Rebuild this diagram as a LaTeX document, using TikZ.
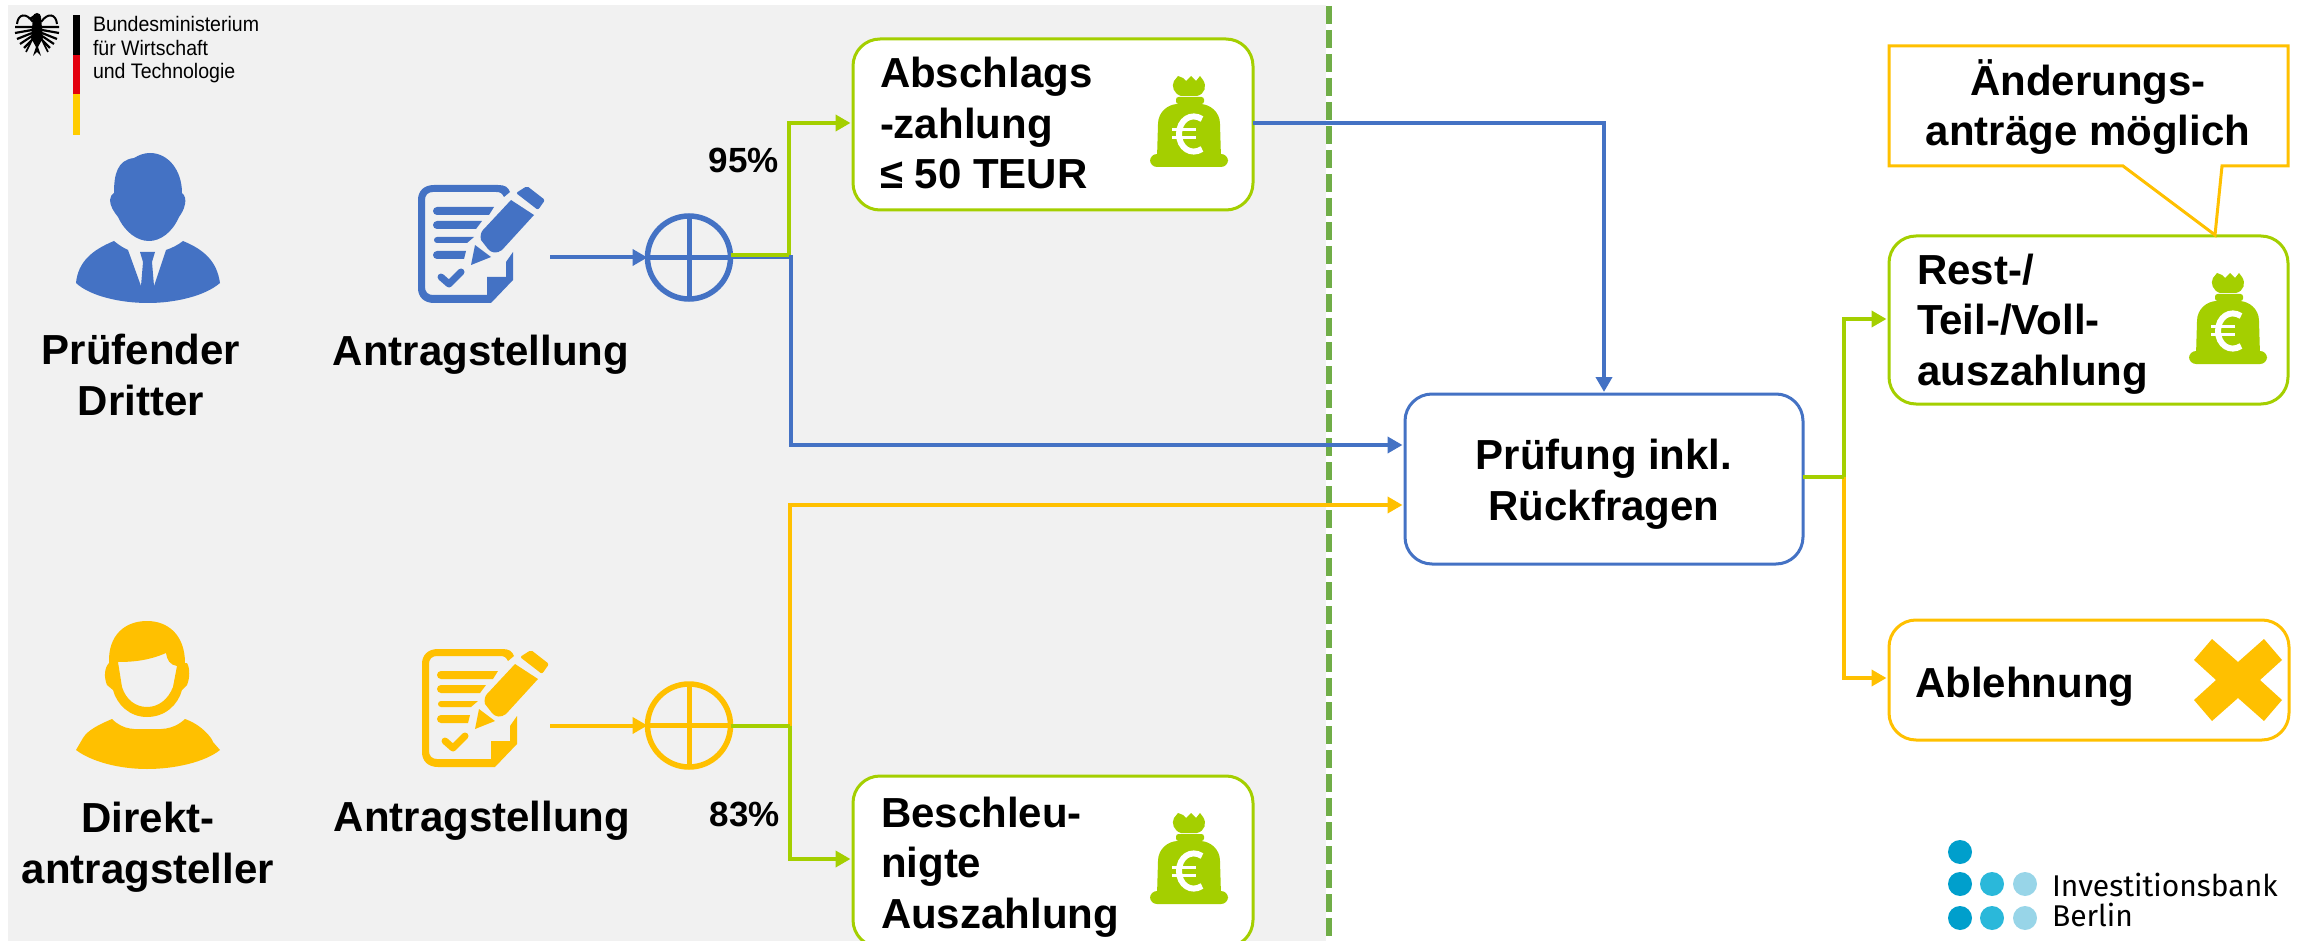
\documentclass[tikz,border=0pt]{standalone}
\usepackage{fontspec}
\setmainfont{Liberation Sans}
\newfontfamily\bmwfont[FakeStretch=0.93]{Liberation Sans}
\newfontfamily\ibbfont{Fira Sans}
\usetikzlibrary{arrows.meta}
\definecolor{cblue}{HTML}{4472C4}
\definecolor{cyell}{HTML}{FFC000}
\definecolor{cgreen}{HTML}{A4CF00}
\definecolor{cdash}{HTML}{70AD47}
\definecolor{cgray}{HTML}{F1F1F1}
\definecolor{ibbA}{HTML}{009FCC}
\definecolor{ibbB}{HTML}{2AB8DA}
\definecolor{ibbC}{HTML}{98D5E8}
\definecolor{bmwred}{HTML}{E3000F}
\definecolor{bmwgold}{HTML}{FFCC00}
\tikzset{
  lbl/.style={font=\fontsize{42}{50.5}\selectfont\bfseries,inner sep=0pt,outer sep=0pt,align=left,text=black},
  clbl/.style={lbl,align=center},
  pct/.style={font=\fontsize{35}{42}\selectfont\bfseries,inner sep=0pt,outer sep=0pt},
  boxnode/.style={draw=#1,fill=white,line width=3pt,rounded corners=27pt,inner sep=0pt,outer sep=0pt},
  sumnode/.style={circle,draw=#1,line width=5.5pt,minimum size=83pt,inner sep=0pt,outer sep=0pt},
  conn/.style={draw=#1,line width=4pt,-{Triangle[length=15pt,width=16pt]}},
  plainconn/.style={draw=#1,line width=4pt},
  dotnode/.style={circle,fill=#1,minimum size=24pt,inner sep=0pt,outer sep=0pt},
}
\newcommand{\docicon}[3]{%
\begin{scope}[shift={(#1,#2)},fill=#3]
 \fill (434,185) -- (498,185) .. controls (505,185) and (508,187) .. (510,192) -- (504,197) .. controls (502,193) and (500,192) .. (496,192)
   -- (433,192) .. controls (428,192) and (425,195) .. (425,200) -- (425,287) .. controls (425,292) and (428,295) .. (433,295)
   -- (487,295) -- (487,277) -- (506,277) -- (506,262) -- (513,252) -- (513,280) -- (491,303) -- (434,303)
   .. controls (424,303) and (418,297) .. (418,288) -- (418,200) .. controls (418,191) and (424,185) .. (434,185) -- cycle;
 \fill (437,207) -- (494,207) -- (489,215) -- (437,215) arc[start angle=270,end angle=90,radius=4pt] -- cycle;
 \fill (437,221) -- (482,221) -- (476,229) -- (437,229) arc[start angle=270,end angle=90,radius=4pt] -- cycle;
 \fill (437,237) -- (474,237) -- (467,243) -- (437,243) arc[start angle=270,end angle=90,radius=3pt] -- cycle;
 \fill (437,251) -- (466,251) -- (464,259) -- (437,259) arc[start angle=270,end angle=90,radius=4pt] -- cycle;
 \draw[#3,line width=7pt,line cap=round,line join=round] (441,277) -- (449,284) -- (461,272);
 \fill[rounded corners=2pt] (527,186) -- (545,200) -- (538,210) -- (516,193) -- cycle;
 \fill (511,200) -- (534,215) -- (502,250) .. controls (497,254) and (491,253) .. (488,249) -- (481,240) .. controls (480,236) and (481,232) .. (483,230) -- cycle;
 \fill (475,245) -- (491,257) -- (471,265) -- cycle;
\end{scope}}
\newcommand{\moneybag}[2]{%
\begin{scope}[shift={(#1,#2)}]
 \fill[cgreen,rounded corners=7pt] (0,78) rectangle (78,91);
 \fill[cgreen] (7,82) -- (8,48) .. controls (8,36) and (18,28) .. (28,28) -- (50,28) .. controls (60,28) and (70,36) .. (70,48) -- (71,82) -- cycle;
 \fill[cgreen,rounded corners=2.5pt] (26,21) rectangle (54,28);
 \fill[cgreen] (31,20) .. controls (24,18) and (21,10) .. (24,5) -- (28,0) -- (33,2) -- (36,5) -- (41,0) -- (46,5) -- (50,0) -- (53,4) .. controls (57,10) and (55,18) .. (47,20) -- cycle;
 \draw[white,line width=6pt] (52,43) .. controls (41,36) and (29,44) .. (29,58) .. controls (29,72) and (41,80) .. (52,73);
 \draw[white,line width=3pt] (22,54) -- (46,54) (22,62) -- (46,62);
\end{scope}}
\begin{document}
\begin{tikzpicture}[x=1pt,y=-1pt]
\useasboundingbox (0,0) rectangle (2300,941);
\clip (0,0) rectangle (2300,941);
% background and divider
\fill[cgray] (8,5) rectangle (1326,941);
\coordinate (divtop) at (1329,6);
\coordinate (divbot) at (1329,941);
\draw[cdash,line width=6pt,dash pattern=on 18pt off 6pt] (divtop) -- (divbot);
% BMWi logo
\begin{scope}
 \fill (33,18) -- (41,18) -- (43,38) -- (38,47) -- (41,56) -- (37,52) -- (33,56) -- (36,47) -- (31,38) -- cycle;
 \fill (37,17) circle[radius=4pt];
 \fill (34,15) -- (28,19) -- (34,20) -- cycle;
 \draw[line width=2pt] (33,22) .. controls (26,12) and (18,14) .. (17,24);
 \draw[line width=2pt] (41,22) .. controls (48,12) and (56,14) .. (57,24);
 \draw[line width=2.2pt] (32,27) -- (15,27) (32,30) -- (15,33) (32,33) -- (17,39) (32,36) -- (20,44) (33,39) -- (24,48)
   (42,27) -- (59,27) (42,30) -- (59,33) (42,33) -- (57,39) (42,36) -- (54,44) (41,39) -- (50,48);
 \draw[line width=1.6pt] (31,42) -- (26,52) (43,42) -- (48,52);
 \fill[black] (73,15) rectangle (80,55);
 \fill[bmwred] (73,55) rectangle (80,94);
 \fill[bmwgold] (73,94) rectangle (80,135);
\end{scope}
\node[anchor=base west,inner sep=0pt,outer sep=0pt,align=left,font=\fontsize{21}{23.5}\selectfont\bmwfont] (bmwtext) at (93,79) {Bundesministerium\\für Wirtschaft\\und Technologie};
% blue person
\fill[cblue] (150,153) .. controls (168,153) and (182,170) .. (182,193) .. controls (185,195) and (186,200) .. (185,204) .. controls (184,210) and (181,214) .. (179,217)
  .. controls (172,233) and (160,241) .. (149,241) .. controls (137,241) and (125,232) .. (118,217) .. controls (114,212) and (110,206) .. (110,200) .. controls (110,197) and (112,194) .. (114,193)
  .. controls (114,175) and (117,160) .. (134,158) .. controls (139,155) and (144,153) .. (150,153) -- cycle;
\fill[cblue] (114,241) .. controls (120,246) and (124,248) .. (128,250) -- (141,286) -- (143,262) -- (140,252) -- (155,252) -- (152,262) -- (154,286) -- (166,250) .. controls (172,248) and (178,245) .. (183,241)
  .. controls (205,250) and (217,262) .. (220,283) .. controls (205,296) and (175,303) .. (148,303) .. controls (120,303) and (90,296) .. (76,283) .. controls (78,262) and (92,250) .. (114,241) -- cycle;
% yellow person
\fill[cyell,even odd rule] (147,621) .. controls (168,621) and (185,635) .. (185,663) -- (187,663) .. controls (190,668) and (190,678) .. (187,685) -- (182,690) .. controls (178,705) and (165,717) .. (147,717)
  .. controls (130,717) and (117,705) .. (113,690) -- (107,685) .. controls (104,678) and (104,668) .. (109,663) .. controls (108,635) and (125,621) .. (147,621) -- cycle
  (118,662) .. controls (135,662) and (150,660) .. (166,653) .. controls (167,660) and (170,665) .. (177,666) -- (173,687) .. controls (168,700) and (158,707) .. (147,707) .. controls (136,707) and (126,700) .. (122,687) -- cycle;
\fill[cyell] (112,719) .. controls (124,731) and (136,729) .. (147,729) .. controls (160,729) and (172,731) .. (185,719) .. controls (202,725) and (212,738) .. (213,742) -- (220,750) .. controls (205,762) and (175,769) .. (147,769)
  .. controls (120,769) and (92,762) .. (76,750) -- (83,738) .. controls (88,730) and (98,725) .. (112,719) -- cycle;
% document icons
\docicon{0}{0}{cblue}
\docicon{4}{464}{cyell}
% boxes
\node[boxnode=cgreen,minimum width=400pt,minimum height=171pt] (abschlag) at (1053,124.5) {};
\node[boxnode=cgreen,minimum width=400pt,minimum height=171pt] (beschl) at (1053,861.5) {};
\node[boxnode=cblue,minimum width=398pt,minimum height=170pt] (pruef) at (1604,479) {};
\node[boxnode=cgreen,minimum width=399pt,minimum height=168pt] (rest) at (2088.5,320) {};
\node[boxnode=cyell,minimum width=400pt,minimum height=120pt] (ablehn) at (2089,680) {};
% callout
\coordinate (tip) at (2215,235);
\draw[cyell,line width=3pt,fill=white] (1889,46) -- (2288,46) -- (2288,166) -- (2222,166) -- (tip) -- (2123,166) -- (1889,166) -- cycle;
% sum circles
\node[sumnode=cblue] (sumA) at (689,257.5) {};
\node[sumnode=cyell] (sumB) at (689,725.5) {};
\draw[cblue,line width=5pt] (sumA.north) -- (sumA.south) (sumA.west) -- (sumA.east);
\draw[cyell,line width=5pt] (sumB.north) -- (sumB.south) (sumB.west) -- (sumB.east);
% junctions
\coordinate (jA) at (791,257.5);
\coordinate (jB) at (790,725.5);
\coordinate (jG) at (789,255.5);
\coordinate (jC) at (1844,477);
\coordinate (srcA) at (550,257.5);
\coordinate (srcB) at (550,725.5);
% connectors
\draw[conn=cblue] (srcA) -- (sumA.west);
\draw[conn=cyell] (srcB) -- (sumB.west);
\draw[conn=cblue] (sumA.east) -- (jA) |- ([xshift=-2.5pt,yshift=34pt]pruef.west);
\draw[plainconn=cgreen] ([yshift=2pt]sumA.east) -- (jG);
\draw[conn=cgreen] (jG) |- ([xshift=-2.5pt,yshift=1.5pt]abschlag.west);
\draw[conn=cyell] (jB) |- ([xshift=-2.5pt,yshift=-26pt]pruef.west);
\draw[plainconn=cgreen] (sumB.east) -- (jB);
\draw[conn=cgreen] (jB) |- ([xshift=-2.5pt,yshift=2.5pt]beschl.west);
\draw[conn=cblue] ([yshift=1.5pt]abschlag.east) -| ([yshift=2pt]pruef.north);
\draw[conn=cyell] (jC) |- ([xshift=-2.5pt,yshift=2pt]ablehn.west);
\draw[plainconn=cgreen] (pruef.east |- jC) -- (jC);
\draw[conn=cgreen] (jC) |- ([xshift=-2.5pt,yshift=1pt]rest.west);
% labels
\node[clbl,anchor=base] (pdritt) at (141,415) {Prüfender\\Dritter};
\node[lbl,anchor=base] (antA) at (481,365) {Antragstellung};
\node[clbl,anchor=base] (direkt) at (148,883) {Direkt-\\antragsteller};
\node[lbl,anchor=base] (antB) at (482,831) {Antragstellung};
\node[pct,anchor=base] (pA) at (744,173) {95\%};
\node[pct,anchor=base] (pB) at (745,826) {83\%};
\node[lbl,anchor=base west] (tabsch) at (880,189) {Abschlags\\-zahlung\\≤ 50 TEUR};
\node[lbl,anchor=base west] (tbesch) at (881,928) {Beschleu-\\nigte\\Auszahlung};
\node[clbl,anchor=base] (tpruef) at (1604,520) {Prüfung inkl.\\Rückfragen};
\node[lbl,anchor=base west] (trest) at (1917,385) {Rest-/\\Teil-/Voll-\\auszahlung};
\node[lbl,anchor=base west] (tableh) at (1915,697) {Ablehnung};
\node[clbl,anchor=base] (tcall) at (2088,146) {Änderungs-\\anträge möglich};
% money bags
\moneybag{1150}{76}
\moneybag{1150}{813}
\moneybag{2189}{273}
% cross
\fill[cyell] (2212,639) -- (2238,662) -- (2264,639) -- (2282,660) -- (2260,680) -- (2282,700) -- (2264,721) -- (2238,698) -- (2212,721) -- (2194,700) -- (2216,680) -- (2194,660) -- cycle;
% IBB logo
\node[dotnode=ibbA] (d1) at (1960,852) {};
\node[dotnode=ibbA] (d2) at (1960,884) {};
\node[dotnode=ibbB] (d3) at (1992,884) {};
\node[dotnode=ibbC] (d4) at (2025,884) {};
\node[dotnode=ibbA] (d5) at (1960,918) {};
\node[dotnode=ibbB] (d6) at (1992,918) {};
\node[dotnode=ibbC] (d7) at (2025,918) {};
\node[anchor=base west,inner sep=0pt,outer sep=0pt,align=left,font=\fontsize{30}{30}\selectfont\ibbfont] (ibbtext) at (2052,926) {Investitionsbank\\Berlin};
\end{tikzpicture}
\end{document}
